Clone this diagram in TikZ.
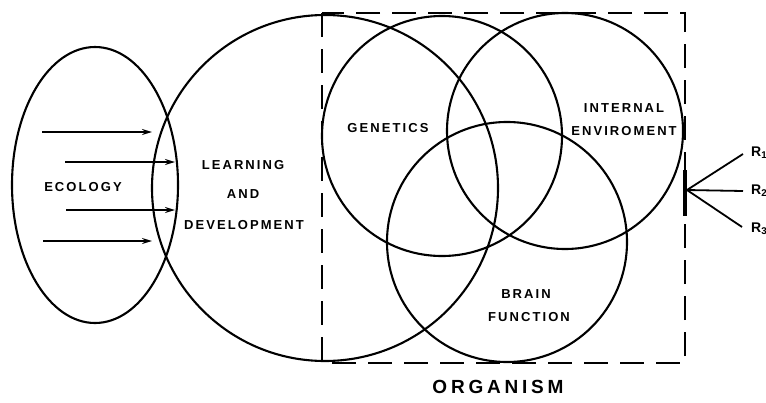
\documentclass[tikz,border=0pt]{standalone}
\usepackage{fontspec}
\setmainfont{Liberation Sans}
\newfontfamily\labfont[LetterSpace=16]{Liberation Sans}
\newfontfamily\bigfont[LetterSpace=20]{Liberation Sans}
\usetikzlibrary{arrows.meta}
\begin{document}
\begin{tikzpicture}[x=1pt,y=-1pt,
  ring/.style={line width=2.1pt},
  boxline/.style={line width=2.3pt, dash pattern=on 24pt off 12pt},
  flow/.style={line width=1.6pt, -{Stealth[length=10pt,width=6pt]}},
  resp/.style={line width=1.8pt},
  lab/.style={font=\labfont\bfseries\fontsize{13}{15}\selectfont, align=center, inner sep=0pt},
  rlab/.style={font=\bfseries\fontsize{14}{16}\selectfont, inner sep=0pt},
  biglab/.style={font=\bigfont\bfseries\fontsize{19}{22}\selectfont, inner sep=0pt}]
\useasboundingbox (0,0) rectangle (766,402);

% outer domains
\draw[ring] (95,185) ellipse [x radius=83, y radius=138];
\draw[ring] (325,188) circle [radius=173];

% organism boundary
\draw[boxline] (322,13) rectangle (685,363);
\draw[line width=3.2pt] (685,170) -- (685,216);

% organism components
\draw[ring] (442,136) circle [radius=120];
\draw[ring] (565,131) circle [radius=118];
\draw[ring] (507,242) circle [radius=120];

% environmental inputs
\coordinate (a1s) at (42,132); \coordinate (a1e) at (152,132);
\coordinate (a2s) at (65,162); \coordinate (a2e) at (175,162);
\coordinate (a3s) at (66,210); \coordinate (a3e) at (175,210);
\coordinate (a4s) at (43,241); \coordinate (a4e) at (152,241);
\draw[flow] (a1s) -- (a1e);
\draw[flow] (a2s) -- (a2e);
\draw[flow] (a3s) -- (a3e);
\draw[flow] (a4s) -- (a4e);

% labels
\node[lab] (eco) at (83,187) {ECOLOGY};
\node[lab] (learn) at (243,165) {LEARNING};
\node[lab] (and) at (243,194) {AND};
\node[lab] (dev) at (244,225) {DEVELOPMENT};
\node[lab] (gen) at (388,128) {GENETICS};
\node[lab] (int) at (624,108) {INTERNAL};
\node[lab] (env) at (624,131) {ENVIROMENT};
\node[lab] (brain) at (526,294) {BRAIN};
\node[lab] (func) at (529,317) {FUNCTION};
\node[biglab] (org) at (498,387) {ORGANISM};

% responses
\coordinate (hub) at (687,190);
\node[rlab, anchor=west] (r1) at (751,153) {R\textsubscript{1}};
\node[rlab, anchor=west] (r2) at (751,191) {R\textsubscript{2}};
\node[rlab, anchor=west] (r3) at (751,229) {R\textsubscript{3}};
\draw[resp] (hub) -- (743,154);
\draw[resp] (hub) -- (743,191);
\draw[resp] (hub) -- (742,227);
\end{tikzpicture}
\end{document}
